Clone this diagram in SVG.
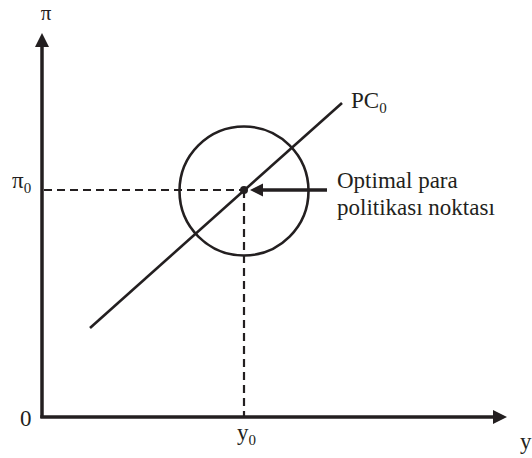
<svg xmlns="http://www.w3.org/2000/svg" width="532" height="458" viewBox="0 0 532 458">
<style>
text{font-family:"Liberation Serif","Times New Roman",serif;fill:#231f20}
.lbl{font-size:23px}
.sub{font-size:15px}
.axis{stroke:#231f20;stroke-width:3.5;fill:none}
.dash{stroke:#231f20;stroke-width:2.2;stroke-dasharray:8 5;fill:none}
.curve{stroke:#231f20;stroke-width:2.6;fill:none}
.head{fill:#231f20}
</style>
<rect width="532" height="458" fill="#fff"/>
<g id="connectors">
<line class="axis" x1="42" y1="418" x2="42" y2="44"/>
<polygon class="head" points="42,33 35,47 49,47"/>
<line class="axis" x1="40.3" y1="417" x2="494" y2="417"/>
<polygon class="head" points="507,417 493,410 493,424"/>
<line class="dash" x1="44" y1="190" x2="244" y2="190"/>
<line class="dash" x1="244" y1="190" x2="244" y2="416"/>
<line class="axis" x1="327" y1="190" x2="260" y2="190"/>
<polygon class="head" points="250,190 263,183.5 263,196.5"/>
</g>
<g id="pc0">
<line class="curve" x1="90" y1="328" x2="342" y2="103"/>
<text class="lbl" x="351" y="108">PC<tspan class="sub" dy="5">0</tspan></text>
</g>
<g id="circle">
<circle class="curve" cx="244" cy="191" r="64.5"/>
</g>
<g id="point">
<circle class="head" cx="244" cy="190" r="4"/>
</g>
<g id="label-opt">
<text class="lbl" x="337" y="188">Optimal para</text>
<text class="lbl" x="337" y="215">politikası noktası</text>
</g>
<g id="axis-labels">
<text x="46" y="20" text-anchor="middle" style="font-size:21px">π</text>
<text class="lbl" x="12" y="188">π<tspan class="sub" dy="5">0</tspan></text>
<text class="lbl" x="20" y="426">0</text>
<text class="lbl" x="237" y="440">y<tspan class="sub" dy="5">0</tspan></text>
<text class="lbl" x="520" y="449">y</text>
</g>
</svg>
